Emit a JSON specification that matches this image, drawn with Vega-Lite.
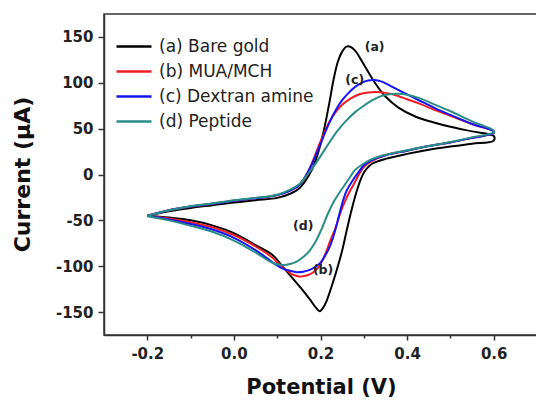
{
  "$schema": "https://vega.github.io/schema/vega-lite/v6.json",
  "autosize": {"type": "none"},
  "padding": {"left": 104, "top": 14, "right": 0, "bottom": 69},
  "width": 433,
  "height": 321,
  "background": "white",
  "config": {
    "view": {"stroke": "#333", "strokeWidth": 1.5},
    "font": "DejaVu Sans"
  },
  "datasets": {
    "cv": [
      {"s":"(a) Bare gold","i":0,"E":-0.2,"I":-45},{"s":"(a) Bare gold","i":1,"E":-0.15,"I":-40},{"s":"(a) Bare gold","i":2,"E":-0.1,"I":-36.5},{"s":"(a) Bare gold","i":3,"E":-0.05,"I":-33.5},{"s":"(a) Bare gold","i":4,"E":0,"I":-30.5},{"s":"(a) Bare gold","i":5,"E":0.05,"I":-28},{"s":"(a) Bare gold","i":6,"E":0.1,"I":-25.5},{"s":"(a) Bare gold","i":7,"E":0.13,"I":-21},{"s":"(a) Bare gold","i":8,"E":0.15,"I":-15.5},{"s":"(a) Bare gold","i":9,"E":0.165,"I":-7},{"s":"(a) Bare gold","i":10,"E":0.18,"I":5},{"s":"(a) Bare gold","i":11,"E":0.19,"I":17},{"s":"(a) Bare gold","i":12,"E":0.2,"I":33},{"s":"(a) Bare gold","i":13,"E":0.21,"I":53},{"s":"(a) Bare gold","i":14,"E":0.22,"I":77},{"s":"(a) Bare gold","i":15,"E":0.23,"I":103},{"s":"(a) Bare gold","i":16,"E":0.24,"I":123},{"s":"(a) Bare gold","i":17,"E":0.25,"I":134},{"s":"(a) Bare gold","i":18,"E":0.26,"I":139.5},{"s":"(a) Bare gold","i":19,"E":0.27,"I":139},{"s":"(a) Bare gold","i":20,"E":0.28,"I":135},{"s":"(a) Bare gold","i":21,"E":0.29,"I":128},{"s":"(a) Bare gold","i":22,"E":0.3,"I":120},{"s":"(a) Bare gold","i":23,"E":0.315,"I":108},{"s":"(a) Bare gold","i":24,"E":0.33,"I":97},{"s":"(a) Bare gold","i":25,"E":0.35,"I":85},{"s":"(a) Bare gold","i":26,"E":0.38,"I":73},{"s":"(a) Bare gold","i":27,"E":0.42,"I":63},{"s":"(a) Bare gold","i":28,"E":0.46,"I":57},{"s":"(a) Bare gold","i":29,"E":0.5,"I":52},{"s":"(a) Bare gold","i":30,"E":0.55,"I":47},{"s":"(a) Bare gold","i":31,"E":0.6,"I":42},
      {"s":"(a) Bare gold","i":32,"E":0.6,"I":37},{"s":"(a) Bare gold","i":33,"E":0.55,"I":33.5},{"s":"(a) Bare gold","i":34,"E":0.5,"I":30.5},{"s":"(a) Bare gold","i":35,"E":0.45,"I":27},{"s":"(a) Bare gold","i":36,"E":0.4,"I":22.5},{"s":"(a) Bare gold","i":37,"E":0.35,"I":17},{"s":"(a) Bare gold","i":38,"E":0.32,"I":12},{"s":"(a) Bare gold","i":39,"E":0.31,"I":8},{"s":"(a) Bare gold","i":40,"E":0.3,"I":2},{"s":"(a) Bare gold","i":41,"E":0.29,"I":-9},{"s":"(a) Bare gold","i":42,"E":0.28,"I":-24},{"s":"(a) Bare gold","i":43,"E":0.27,"I":-42},{"s":"(a) Bare gold","i":44,"E":0.26,"I":-62},{"s":"(a) Bare gold","i":45,"E":0.25,"I":-83},{"s":"(a) Bare gold","i":46,"E":0.237,"I":-105},{"s":"(a) Bare gold","i":47,"E":0.225,"I":-123},{"s":"(a) Bare gold","i":48,"E":0.214,"I":-138},{"s":"(a) Bare gold","i":49,"E":0.205,"I":-146},{"s":"(a) Bare gold","i":50,"E":0.198,"I":-149},{"s":"(a) Bare gold","i":51,"E":0.19,"I":-145.5},{"s":"(a) Bare gold","i":52,"E":0.175,"I":-136},{"s":"(a) Bare gold","i":53,"E":0.155,"I":-124},{"s":"(a) Bare gold","i":54,"E":0.13,"I":-110},{"s":"(a) Bare gold","i":55,"E":0.11,"I":-99},{"s":"(a) Bare gold","i":56,"E":0.09,"I":-88},{"s":"(a) Bare gold","i":57,"E":0.05,"I":-77},{"s":"(a) Bare gold","i":58,"E":0,"I":-64},{"s":"(a) Bare gold","i":59,"E":-0.05,"I":-55.5},{"s":"(a) Bare gold","i":60,"E":-0.1,"I":-50},{"s":"(a) Bare gold","i":61,"E":-0.15,"I":-47},{"s":"(a) Bare gold","i":62,"E":-0.2,"I":-45},

      {"s":"(b) MUA/MCH","i":0,"E":-0.2,"I":-45},{"s":"(b) MUA/MCH","i":1,"E":-0.15,"I":-39},{"s":"(b) MUA/MCH","i":2,"E":-0.1,"I":-35},{"s":"(b) MUA/MCH","i":3,"E":-0.05,"I":-32},{"s":"(b) MUA/MCH","i":4,"E":0,"I":-28.5},{"s":"(b) MUA/MCH","i":5,"E":0.05,"I":-26},{"s":"(b) MUA/MCH","i":6,"E":0.1,"I":-22.5},{"s":"(b) MUA/MCH","i":7,"E":0.13,"I":-17.5},{"s":"(b) MUA/MCH","i":8,"E":0.15,"I":-12},{"s":"(b) MUA/MCH","i":9,"E":0.16,"I":-6},{"s":"(b) MUA/MCH","i":10,"E":0.17,"I":2},{"s":"(b) MUA/MCH","i":11,"E":0.18,"I":12},{"s":"(b) MUA/MCH","i":12,"E":0.19,"I":24},{"s":"(b) MUA/MCH","i":13,"E":0.2,"I":36},{"s":"(b) MUA/MCH","i":14,"E":0.21,"I":47},{"s":"(b) MUA/MCH","i":15,"E":0.22,"I":57},{"s":"(b) MUA/MCH","i":16,"E":0.235,"I":68},{"s":"(b) MUA/MCH","i":17,"E":0.25,"I":76},{"s":"(b) MUA/MCH","i":18,"E":0.27,"I":83},{"s":"(b) MUA/MCH","i":19,"E":0.29,"I":87.5},{"s":"(b) MUA/MCH","i":20,"E":0.31,"I":89.5},{"s":"(b) MUA/MCH","i":21,"E":0.33,"I":90},{"s":"(b) MUA/MCH","i":22,"E":0.35,"I":89},{"s":"(b) MUA/MCH","i":23,"E":0.37,"I":87},{"s":"(b) MUA/MCH","i":24,"E":0.4,"I":82},{"s":"(b) MUA/MCH","i":25,"E":0.43,"I":77},{"s":"(b) MUA/MCH","i":26,"E":0.46,"I":71},{"s":"(b) MUA/MCH","i":27,"E":0.5,"I":64},{"s":"(b) MUA/MCH","i":28,"E":0.55,"I":55},{"s":"(b) MUA/MCH","i":29,"E":0.6,"I":47},
      {"s":"(b) MUA/MCH","i":30,"E":0.6,"I":45},{"s":"(b) MUA/MCH","i":31,"E":0.55,"I":40},{"s":"(b) MUA/MCH","i":32,"E":0.5,"I":35},{"s":"(b) MUA/MCH","i":33,"E":0.45,"I":31},{"s":"(b) MUA/MCH","i":34,"E":0.4,"I":26},{"s":"(b) MUA/MCH","i":35,"E":0.35,"I":21},{"s":"(b) MUA/MCH","i":36,"E":0.32,"I":15},{"s":"(b) MUA/MCH","i":37,"E":0.3,"I":8},{"s":"(b) MUA/MCH","i":38,"E":0.29,"I":1},{"s":"(b) MUA/MCH","i":39,"E":0.28,"I":-8},{"s":"(b) MUA/MCH","i":40,"E":0.268,"I":-18},{"s":"(b) MUA/MCH","i":41,"E":0.255,"I":-31},{"s":"(b) MUA/MCH","i":42,"E":0.245,"I":-43},{"s":"(b) MUA/MCH","i":43,"E":0.235,"I":-58},{"s":"(b) MUA/MCH","i":44,"E":0.222,"I":-73},{"s":"(b) MUA/MCH","i":45,"E":0.21,"I":-88},{"s":"(b) MUA/MCH","i":46,"E":0.2,"I":-98},{"s":"(b) MUA/MCH","i":47,"E":0.19,"I":-104},{"s":"(b) MUA/MCH","i":48,"E":0.175,"I":-109},{"s":"(b) MUA/MCH","i":49,"E":0.16,"I":-111},{"s":"(b) MUA/MCH","i":50,"E":0.148,"I":-111},{"s":"(b) MUA/MCH","i":51,"E":0.135,"I":-109},{"s":"(b) MUA/MCH","i":52,"E":0.12,"I":-104},{"s":"(b) MUA/MCH","i":53,"E":0.1,"I":-96},{"s":"(b) MUA/MCH","i":54,"E":0.09,"I":-91},{"s":"(b) MUA/MCH","i":55,"E":0.05,"I":-78.5},{"s":"(b) MUA/MCH","i":56,"E":0,"I":-66},{"s":"(b) MUA/MCH","i":57,"E":-0.05,"I":-57.5},{"s":"(b) MUA/MCH","i":58,"E":-0.1,"I":-52},{"s":"(b) MUA/MCH","i":59,"E":-0.15,"I":-48},{"s":"(b) MUA/MCH","i":60,"E":-0.2,"I":-45},

      {"s":"(c) Dextran amine","i":0,"E":-0.2,"I":-45},{"s":"(c) Dextran amine","i":1,"E":-0.15,"I":-39},{"s":"(c) Dextran amine","i":2,"E":-0.1,"I":-35},{"s":"(c) Dextran amine","i":3,"E":-0.05,"I":-32},{"s":"(c) Dextran amine","i":4,"E":0,"I":-28.5},{"s":"(c) Dextran amine","i":5,"E":0.05,"I":-26},{"s":"(c) Dextran amine","i":6,"E":0.1,"I":-22.5},{"s":"(c) Dextran amine","i":7,"E":0.13,"I":-17.5},{"s":"(c) Dextran amine","i":8,"E":0.15,"I":-12},{"s":"(c) Dextran amine","i":9,"E":0.16,"I":-6},{"s":"(c) Dextran amine","i":10,"E":0.17,"I":2},{"s":"(c) Dextran amine","i":11,"E":0.18,"I":11},{"s":"(c) Dextran amine","i":12,"E":0.19,"I":22},{"s":"(c) Dextran amine","i":13,"E":0.2,"I":33},{"s":"(c) Dextran amine","i":14,"E":0.21,"I":45},{"s":"(c) Dextran amine","i":15,"E":0.222,"I":58},{"s":"(c) Dextran amine","i":16,"E":0.235,"I":70},{"s":"(c) Dextran amine","i":17,"E":0.25,"I":81},{"s":"(c) Dextran amine","i":18,"E":0.265,"I":89},{"s":"(c) Dextran amine","i":19,"E":0.28,"I":95.5},{"s":"(c) Dextran amine","i":20,"E":0.295,"I":100},{"s":"(c) Dextran amine","i":21,"E":0.31,"I":102.5},{"s":"(c) Dextran amine","i":22,"E":0.325,"I":103},{"s":"(c) Dextran amine","i":23,"E":0.34,"I":101.5},{"s":"(c) Dextran amine","i":24,"E":0.36,"I":97},{"s":"(c) Dextran amine","i":25,"E":0.385,"I":91},{"s":"(c) Dextran amine","i":26,"E":0.414,"I":84},{"s":"(c) Dextran amine","i":27,"E":0.44,"I":78},{"s":"(c) Dextran amine","i":28,"E":0.47,"I":71},{"s":"(c) Dextran amine","i":29,"E":0.5,"I":65},{"s":"(c) Dextran amine","i":30,"E":0.55,"I":55},{"s":"(c) Dextran amine","i":31,"E":0.6,"I":47},
      {"s":"(c) Dextran amine","i":32,"E":0.6,"I":45},{"s":"(c) Dextran amine","i":33,"E":0.55,"I":40},{"s":"(c) Dextran amine","i":34,"E":0.5,"I":35},{"s":"(c) Dextran amine","i":35,"E":0.45,"I":31},{"s":"(c) Dextran amine","i":36,"E":0.4,"I":26},{"s":"(c) Dextran amine","i":37,"E":0.35,"I":21},{"s":"(c) Dextran amine","i":38,"E":0.32,"I":16},{"s":"(c) Dextran amine","i":39,"E":0.3,"I":10},{"s":"(c) Dextran amine","i":40,"E":0.29,"I":4},{"s":"(c) Dextran amine","i":41,"E":0.275,"I":-6},{"s":"(c) Dextran amine","i":42,"E":0.26,"I":-18},{"s":"(c) Dextran amine","i":43,"E":0.25,"I":-32},{"s":"(c) Dextran amine","i":44,"E":0.241,"I":-48},{"s":"(c) Dextran amine","i":45,"E":0.232,"I":-64},{"s":"(c) Dextran amine","i":46,"E":0.222,"I":-78},{"s":"(c) Dextran amine","i":47,"E":0.21,"I":-89},{"s":"(c) Dextran amine","i":48,"E":0.2,"I":-96},{"s":"(c) Dextran amine","i":49,"E":0.19,"I":-100},{"s":"(c) Dextran amine","i":50,"E":0.175,"I":-104},{"s":"(c) Dextran amine","i":51,"E":0.16,"I":-106},{"s":"(c) Dextran amine","i":52,"E":0.145,"I":-106.5},{"s":"(c) Dextran amine","i":53,"E":0.13,"I":-105},{"s":"(c) Dextran amine","i":54,"E":0.11,"I":-102},{"s":"(c) Dextran amine","i":55,"E":0.09,"I":-96},{"s":"(c) Dextran amine","i":56,"E":0.05,"I":-82.5},{"s":"(c) Dextran amine","i":57,"E":0,"I":-69},{"s":"(c) Dextran amine","i":58,"E":-0.05,"I":-60},{"s":"(c) Dextran amine","i":59,"E":-0.1,"I":-54},{"s":"(c) Dextran amine","i":60,"E":-0.15,"I":-49},{"s":"(c) Dextran amine","i":61,"E":-0.2,"I":-45},

      {"s":"(d) Peptide","i":0,"E":-0.2,"I":-45},{"s":"(d) Peptide","i":1,"E":-0.15,"I":-39},{"s":"(d) Peptide","i":2,"E":-0.1,"I":-34.5},{"s":"(d) Peptide","i":3,"E":-0.05,"I":-31.5},{"s":"(d) Peptide","i":4,"E":0,"I":-28},{"s":"(d) Peptide","i":5,"E":0.05,"I":-25.5},{"s":"(d) Peptide","i":6,"E":0.1,"I":-22},{"s":"(d) Peptide","i":7,"E":0.13,"I":-16.5},{"s":"(d) Peptide","i":8,"E":0.15,"I":-11},{"s":"(d) Peptide","i":9,"E":0.16,"I":-6},{"s":"(d) Peptide","i":10,"E":0.17,"I":0},{"s":"(d) Peptide","i":11,"E":0.183,"I":8},{"s":"(d) Peptide","i":12,"E":0.2,"I":20},{"s":"(d) Peptide","i":13,"E":0.222,"I":36},{"s":"(d) Peptide","i":14,"E":0.24,"I":48},{"s":"(d) Peptide","i":15,"E":0.26,"I":59},{"s":"(d) Peptide","i":16,"E":0.28,"I":68},{"s":"(d) Peptide","i":17,"E":0.3,"I":75},{"s":"(d) Peptide","i":18,"E":0.32,"I":81},{"s":"(d) Peptide","i":19,"E":0.34,"I":85.5},{"s":"(d) Peptide","i":20,"E":0.36,"I":87.5},{"s":"(d) Peptide","i":21,"E":0.38,"I":88},{"s":"(d) Peptide","i":22,"E":0.4,"I":87},{"s":"(d) Peptide","i":23,"E":0.43,"I":83},{"s":"(d) Peptide","i":24,"E":0.46,"I":77},{"s":"(d) Peptide","i":25,"E":0.5,"I":69},{"s":"(d) Peptide","i":26,"E":0.55,"I":58},{"s":"(d) Peptide","i":27,"E":0.6,"I":48},
      {"s":"(d) Peptide","i":28,"E":0.6,"I":46},{"s":"(d) Peptide","i":29,"E":0.55,"I":40.5},{"s":"(d) Peptide","i":30,"E":0.5,"I":35.5},{"s":"(d) Peptide","i":31,"E":0.45,"I":31},{"s":"(d) Peptide","i":32,"E":0.4,"I":26.5},{"s":"(d) Peptide","i":33,"E":0.35,"I":21.5},{"s":"(d) Peptide","i":34,"E":0.32,"I":17},{"s":"(d) Peptide","i":35,"E":0.3,"I":12},{"s":"(d) Peptide","i":36,"E":0.28,"I":5},{"s":"(d) Peptide","i":37,"E":0.268,"I":-3},{"s":"(d) Peptide","i":38,"E":0.255,"I":-12},{"s":"(d) Peptide","i":39,"E":0.242,"I":-21},{"s":"(d) Peptide","i":40,"E":0.229,"I":-31},{"s":"(d) Peptide","i":41,"E":0.215,"I":-45},{"s":"(d) Peptide","i":42,"E":0.202,"I":-60},{"s":"(d) Peptide","i":43,"E":0.19,"I":-72},{"s":"(d) Peptide","i":44,"E":0.175,"I":-83},{"s":"(d) Peptide","i":45,"E":0.16,"I":-90},{"s":"(d) Peptide","i":46,"E":0.145,"I":-95},{"s":"(d) Peptide","i":47,"E":0.13,"I":-97.5},{"s":"(d) Peptide","i":48,"E":0.112,"I":-98.6},{"s":"(d) Peptide","i":49,"E":0.09,"I":-96.5},{"s":"(d) Peptide","i":50,"E":0.05,"I":-85},{"s":"(d) Peptide","i":51,"E":0,"I":-72},{"s":"(d) Peptide","i":52,"E":-0.05,"I":-62.5},{"s":"(d) Peptide","i":53,"E":-0.1,"I":-56},{"s":"(d) Peptide","i":54,"E":-0.15,"I":-50},{"s":"(d) Peptide","i":55,"E":-0.2,"I":-45.5}
    ],
    "notes": [
      {"t":"(a)","E":0.325,"I":139},
      {"t":"(c)","E":0.279,"I":103},
      {"t":"(d)","E":0.16,"I":-56},
      {"t":"(b)","E":0.206,"I":-104}
    ]
  },
  "layer": [
    {
      "data": {"name": "cv"},
      "mark": {"type": "line", "interpolate": "catmull-rom", "strokeWidth": 2, "clip": true},
      "encoding": {
        "x": {
          "field": "E", "type": "quantitative",
          "scale": {"domain": [-0.3, 0.7], "nice": false, "zero": false},
          "axis": {
            "title": "Potential (V)",
            "values": [-0.2, -0.1, 0, 0.1, 0.2, 0.3, 0.4, 0.5, 0.6],
            "labelExpr": "round(datum.value*10)%2==0 ? (datum.value<0?'-':'') + format(abs(datum.value),'.1f') : ''",
            "tickSize": {"condition": {"test": "round(datum.value*10)%2==0", "value": 5}, "value": 3},
            "tickColor": "#333", "tickWidth": 1.5,
            "domainColor": "#333", "domainWidth": 1.5,
            "grid": false,
            "labelFont": "DejaVu Sans", "labelFontWeight": "bold", "labelFontSize": 15, "labelColor": "#222",
            "labelPadding": 6, "labelFlush": false, "labelOverlap": false,
            "titleFont": "DejaVu Sans", "titleFontWeight": "bold", "titleFontSize": 21, "titleColor": "#111",
            "titleX": 217, "titleY": 52, "titleAlign": "center", "titleBaseline": "middle"
          }
        },
        "y": {
          "field": "I", "type": "quantitative",
          "scale": {"domain": [-175, 175], "nice": false, "zero": false},
          "axis": {
            "title": "Current (μA)",
            "values": [-150, -125, -100, -75, -50, -25, 0, 25, 50, 75, 100, 125, 150],
            "labelExpr": "datum.value%50==0 ? (datum.value<0?'-':'') + abs(datum.value) : ''",
            "tickSize": {"condition": {"test": "datum.value%50==0", "value": 6}, "value": 3},
            "tickColor": "#333", "tickWidth": 1.5,
            "domainColor": "#333", "domainWidth": 1.5,
            "grid": false,
            "labelFont": "DejaVu Sans", "labelFontWeight": "bold", "labelFontSize": 15, "labelColor": "#222",
            "labelPadding": 5, "labelFlush": false, "labelOverlap": false,
            "titleFont": "DejaVu Sans", "titleFontWeight": "bold", "titleFontSize": 22, "titleColor": "#111",
            "titleAngle": -90, "titleX": -82, "titleY": 160, "titleAlign": "center", "titleBaseline": "middle"
          }
        },
        "color": {
          "field": "s", "type": "nominal",
          "scale": {
            "domain": ["(a) Bare gold", "(b) MUA/MCH", "(c) Dextran amine", "(d) Peptide"],
            "range": ["#000000", "#ee1c24", "#1515f0", "#2a8d88"]
          },
          "legend": {
            "title": null,
            "orient": "none", "legendX": 21.5, "legendY": 24,
            "padding": 0,
            "symbolType": "M-3.5,0H3.5", "symbolSize": 100, "symbolStrokeWidth": 2.5,
            "labelFont": "DejaVu Sans", "labelFontSize": 17, "labelColor": "#222",
            "labelOffset": 16.5, "rowPadding": 7
          }
        },
        "order": {"field": "i", "type": "quantitative"}
      }
    },
    {
      "data": {"name": "notes"},
      "mark": {"type": "text", "font": "DejaVu Sans", "fontWeight": "bold", "fontSize": 12.5, "color": "#222"},
      "encoding": {
        "x": {"field": "E", "type": "quantitative"},
        "y": {"field": "I", "type": "quantitative"},
        "text": {"field": "t"}
      }
    }
  ]
}
